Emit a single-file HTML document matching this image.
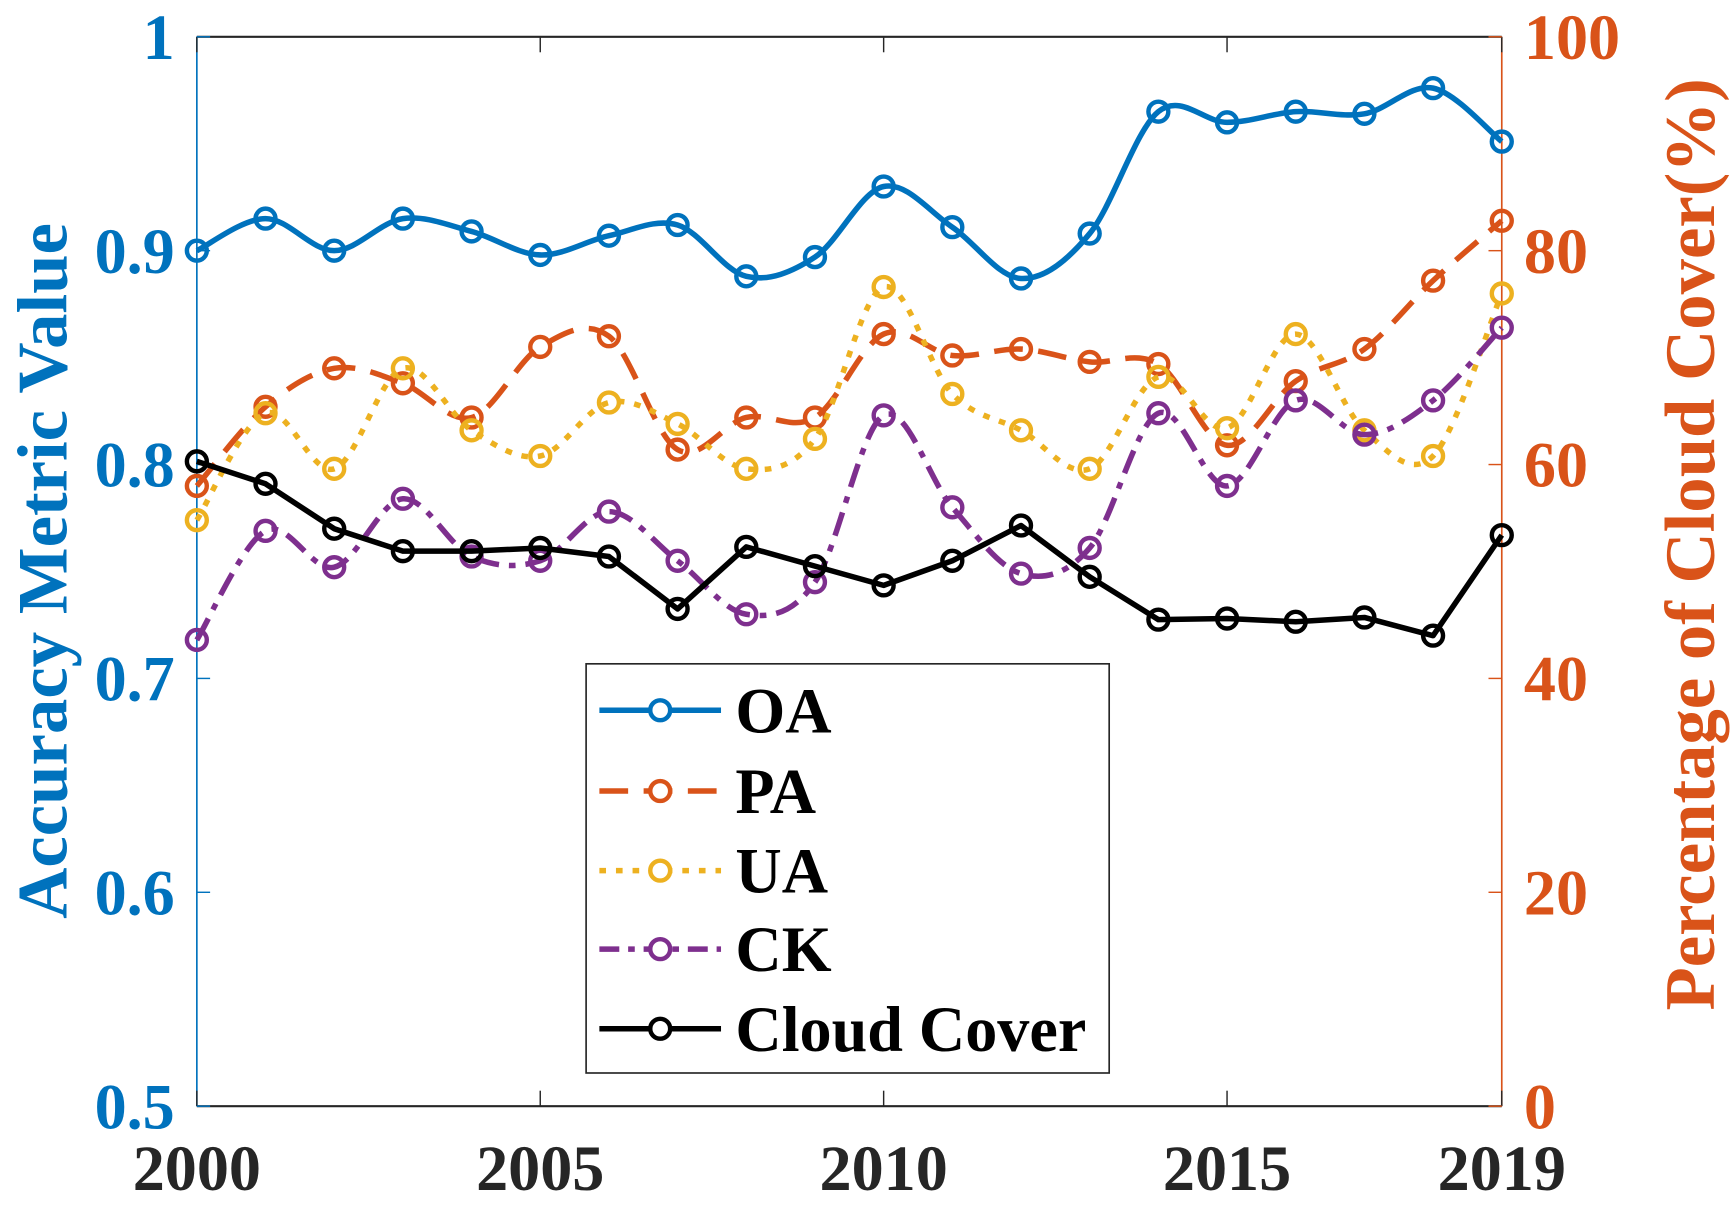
<!DOCTYPE html>
<html><head><meta charset="utf-8"><style>
html,body{margin:0;padding:0;background:#fff;}
svg{display:block;}
svg text{font-family:"Liberation Serif","Times New Roman","DejaVu Serif",serif;font-weight:bold;}
</style></head><body>
<svg id="chart" width="1734" height="1206" viewBox="0 0 1568 1090" xmlns="http://www.w3.org/2000/svg" font-family="Liberation Serif, serif" font-weight="bold">
<rect x="0" y="0" width="1568" height="1090" fill="#fff"/>
<g id="axes"></g>
<g id="series"></g>
<g id="legend"></g>
</svg>
<script>
const years=[2000,2001,2002,2003,2004,2005,2006,2007,2008,2009,2010,2011,2012,2013,2014,2015,2016,2017,2018,2019];
const oaValues=[0.900,0.915,0.900,0.915,0.909,0.898,0.907,0.912,0.888,0.897,0.930,0.911,0.887,0.908,0.965,0.960,0.965,0.964,0.976,0.951];
const paValues=[0.790,0.827,0.845,0.838,0.822,0.855,0.860,0.807,0.822,0.822,0.861,0.851,0.854,0.848,0.847,0.809,0.839,0.854,0.886,0.914];
const uaValues=[0.774,0.824,0.798,0.845,0.816,0.804,0.829,0.819,0.798,0.812,0.883,0.833,0.816,0.798,0.841,0.817,0.861,0.816,0.804,0.880];
const ckValues=[0.718,0.769,0.752,0.784,0.757,0.755,0.778,0.755,0.730,0.745,0.823,0.780,0.749,0.761,0.824,0.790,0.830,0.814,0.830,0.864];
const cloudValues=[60.3,58.2,54.0,51.9,51.9,52.2,51.4,46.5,52.3,50.5,48.7,51.0,54.3,49.5,45.5,45.6,45.3,45.7,44.0,53.4];
const xTicks=[2000,2005,2010,2015,2019];
const leftTicks=[0.5,0.6,0.7,0.8,0.9,1];
const leftTickLabels=["0.5","0.6","0.7","0.8","0.9","1"];
const rightTicks=[0,20,40,60,80,100];

const NS="http://www.w3.org/2000/svg";
const L=178,R=1358,T=33,B=1000;
const xS=y=>L+(y-2000)/19*(R-L);
const yL=v=>B-(v-0.5)/0.5*(B-T);
const yR=v=>B-v/100*(B-T);
const BLUE="#0072BD",ORANGE="#D95319",YEL="#EDB120",PUR="#7E2F8E";
function mk(tag,attrs,parent){const e=document.createElementNS(NS,tag);for(const k in attrs)e.setAttribute(k,attrs[k]);parent.appendChild(e);return e;}
const axes=document.getElementById('axes');
let e=mk('line',{x1:L,y1:T,x2:R,y2:T,stroke:'#262626','stroke-width':2},axes);

e=mk('line',{x1:L,y1:B,x2:R,y2:B,stroke:'#262626','stroke-width':2},axes);

e=mk('line',{x1:L,y1:T,x2:L,y2:B,stroke:BLUE,'stroke-width':1.5},axes);

e=mk('line',{x1:R,y1:T,x2:R,y2:B,stroke:ORANGE,'stroke-width':1.5},axes);

xTicks.forEach(t=>{
  const x=xS(t);
  e=mk('line',{x1:x,y1:B,x2:x,y2:B-14,stroke:'#262626','stroke-width':1.3},axes);
  
  e=mk('line',{x1:x,y1:T,x2:x,y2:T+14,stroke:'#262626','stroke-width':1.3},axes);
  
  e=mk('text',{x:x,y:1076,'text-anchor':'middle','font-size':58,fill:'#262626'},axes);
  e.textContent=String(t);
  
});
leftTicks.forEach((t,i)=>{
  const y=yL(t);
  e=mk('line',{x1:L,y1:y,x2:L+12,y2:y,stroke:BLUE,'stroke-width':1.3},axes);
  
  e=mk('text',{x:158,y:y+20,'text-anchor':'end','font-size':58,fill:BLUE},axes);
  e.textContent=leftTickLabels[i];
  
});
rightTicks.forEach(t=>{
  const y=yR(t);
  e=mk('line',{x1:R,y1:y,x2:R-12,y2:y,stroke:ORANGE,'stroke-width':1.3},axes);
  
  e=mk('text',{x:1378,y:y+20,'text-anchor':'start','font-size':58,fill:ORANGE},axes);
  e.textContent=String(t);
  
});
e=mk('text',{x:0,y:0,transform:'translate(60,516) rotate(-90)','text-anchor':'middle','font-size':64,fill:BLUE},axes);
e.textContent='Accuracy Metric Value';

e=mk('text',{x:0,y:0,transform:'translate(1550,492) rotate(-90)','text-anchor':'middle','font-size':64,fill:ORANGE},axes);
e.textContent='Percentage of Cloud Cover(%)';


function smoothPath(pts){
  let d=`M${pts[0][0]},${pts[0][1]}`;
  for(let i=0;i<pts.length-1;i++){
    const p0=pts[i-1]||pts[i],p1=pts[i],p2=pts[i+1],p3=pts[i+2]||p2;
    const c1=[p1[0]+(p2[0]-p0[0])/6,p1[1]+(p2[1]-p0[1])/6];
    const c2=[p2[0]-(p3[0]-p1[0])/6,p2[1]-(p3[1]-p1[1])/6];
    d+=` C${c1[0]},${c1[1]} ${c2[0]},${c2[1]} ${p2[0]},${p2[1]}`;
  }
  return d;
}
const seriesG=document.getElementById('series');
const defs=[
 {name:'pa',vals:paValues,col:ORANGE,dash:'26,14',smooth:true,scale:yL},
 {name:'ua',vals:uaValues,col:YEL,dash:'6,9',smooth:true,scale:yL},
 {name:'ck',vals:ckValues,col:PUR,dash:'22,9,6,9',smooth:true,scale:yL},
 {name:'oa',vals:oaValues,col:BLUE,dash:'',smooth:true,scale:yL},
 {name:'cloud-cover',vals:cloudValues,col:'#000',dash:'',smooth:false,scale:yR}
];
defs.forEach(s=>{
  const g=mk('g',{},seriesG);
  
  
  const pts=years.map((y,i)=>[xS(y),s.scale(s.vals[i])]);
  const d=s.smooth?smoothPath(pts):'M'+pts.map(p=>p.join(',')).join(' L');
  const p=mk('path',{d:d,fill:'none',stroke:s.col,'stroke-width':5,'stroke-dasharray':s.dash,'stroke-linejoin':'round'},g);
  
  
  pts.forEach(pt=>{
    const c=mk('circle',{cx:pt[0],cy:pt[1],r:9,fill:'none',stroke:s.col,'stroke-width':4},g);
    
    
  });
});
const lg=document.getElementById('legend');

e=mk('rect',{x:530,y:600,width:473,height:370,fill:'#fff',stroke:'#262626','stroke-width':1.5},lg);

const ents=[['OA',BLUE,''],['PA',ORANGE,'26,14'],['UA',YEL,'6,9'],['CK',PUR,'18,8,6,8'],['Cloud Cover','#000','']];
const ly=[642,715,787,858,930];
ents.forEach((en,i)=>{
  const g=mk('g',{},lg);
  
  const y=ly[i];
  mk('line',{x1:542,y1:y,x2:652,y2:y,stroke:en[1],'stroke-width':5,'stroke-dasharray':en[2]},g);
  mk('circle',{cx:597,cy:y,r:9,fill:'#fff',stroke:en[1],'stroke-width':4},g);
  const t=mk('text',{x:665,y:y+20,'font-size':58,fill:'#000'},g);
  t.textContent=en[0];
});
</script>
</body></html>
